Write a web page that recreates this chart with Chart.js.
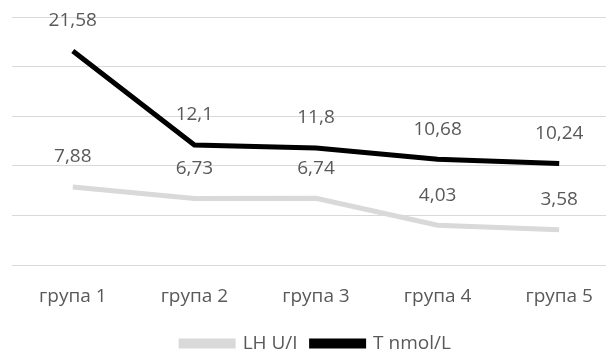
<!DOCTYPE html>
<html lang="uk">
<head>
    <meta charset="UTF-8">
    <title>LH / T</title>
    <script src="https://cdn.jsdelivr.net/npm/chart.js"></script>
    <style>
        html, body { margin: 0; padding: 0; background: #fff; overflow: hidden; }
        #box { width: 620px; height: 356px; }
    </style>
</head>
<body>
    <div id="box"><canvas id="chart"></canvas></div>

    <script>
        // data
        const groups = ["група 1", "група 2", "група 3", "група 4", "група 5"];
        const lhValues = [7.88, 6.73, 6.74, 4.03, 3.58];
        const tValues = [21.58, 12.1, 11.8, 10.68, 10.24];

        const textColor = "#595959";
        const fontFamily = "'Open Sans', sans-serif";

        // draw values above each point (no datalabels plugin offline)
        const valueLabels = {
            id: "valueLabels",
            afterDatasetsDraw(chart) {
                const ctx = chart.ctx;
                ctx.save();
                ctx.font = "19px " + fontFamily;
                ctx.fillStyle = textColor;
                ctx.textAlign = "center";
                ctx.textBaseline = "middle";
                chart.data.datasets.forEach((ds, i) => {
                    chart.getDatasetMeta(i).data.forEach((pt, j) => {
                        const txt = String(ds.data[j]).replace(".", ",");
                        ctx.fillText(txt, pt.x, pt.y - 30);
                    });
                });
                ctx.restore();
            }
        };

        new Chart(document.getElementById("chart").getContext("2d"), {
            type: "line",
            data: {
                labels: groups,
                datasets: [{
                    label: "LH U/I",
                    data: lhValues,
                    borderColor: "#d9d9d9",
                    backgroundColor: "#d9d9d9",
                    borderWidth: 5,
                    pointRadius: 0,
                    tension: 0
                }, {
                    label: "T nmol/L",
                    data: tValues,
                    borderColor: "#000000",
                    backgroundColor: "#000000",
                    borderWidth: 5,
                    pointRadius: 0,
                    tension: 0
                }]
            },
            options: {
                responsive: true,
                maintainAspectRatio: false,
                animation: false,
                layout: { padding: { left: 12, right: 0, top: 17, bottom: -7 } },
                scales: {
                    x: {
                        offset: true,
                        grid: { display: false },
                        border: { display: false },
                        ticks: { color: textColor, font: { size: 19, family: fontFamily }, padding: 12 }
                    },
                    y: {
                        min: 0,
                        max: 25,
                        ticks: { stepSize: 5, display: false },
                        grid: { color: "#d9d9d9", lineWidth: 1, drawTicks: false },
                        border: { display: false }
                    }
                },
                plugins: {
                    tooltip: { enabled: false },
                    legend: {
                        position: "bottom",
                        labels: {
                            color: textColor,
                            font: { size: 19, family: fontFamily },
                            boxWidth: 52,
                            boxHeight: 5,
                            padding: 14
                        }
                    }
                }
            },
            plugins: [valueLabels]
        });
    </script>
</body>
</html>
